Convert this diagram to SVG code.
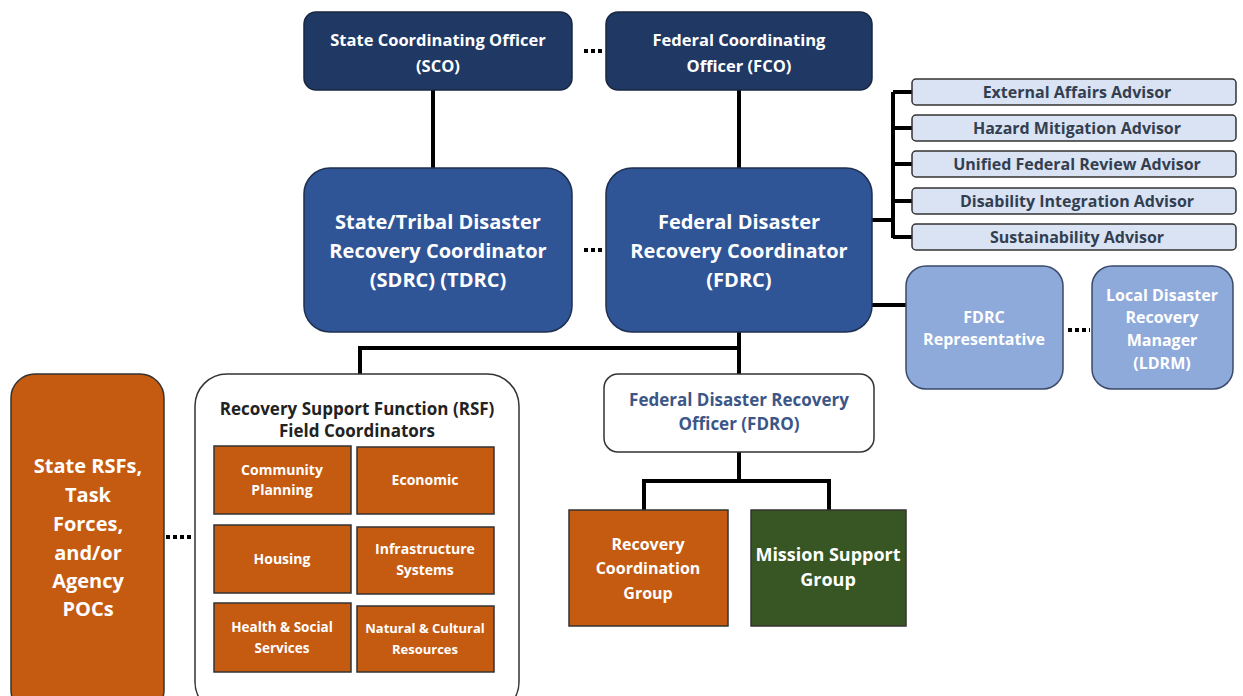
<svg xmlns="http://www.w3.org/2000/svg" width="1243" height="696" viewBox="0 0 1243 696">
<style>
text{font-family:"Open Sans","Noto Sans","Liberation Sans",sans-serif;font-weight:bold;text-anchor:middle}
.w{fill:#fff}
.navy{fill:#1f3864;stroke:#1a2640;stroke-width:1.5}
.blue{fill:#2f5597;stroke:#1f2f4f;stroke-width:1.5}
.adv{fill:#dae3f3;stroke:#333;stroke-width:1.5}
.lb{fill:#8eaadb;stroke:#3a4a6a;stroke-width:1.5}
.or{fill:#c55a11;stroke:#333;stroke-width:1.5}
.gr{fill:#375623;stroke:#333;stroke-width:1.5}
.wh{fill:#fff;stroke:#333;stroke-width:1.5}
.ln{stroke:#000;stroke-width:4;fill:none}
.dot{stroke:#000;stroke-width:4;stroke-dasharray:4 3;fill:none}
.at{fill:#333f50;font-size:16px}
</style>
<g id="connectors">
<path class="ln" d="M433 90V170M739 90V170"/>
<path class="ln" d="M872 220H893M893 92V238M893 92H912M893 128H912M893 164H912M893 201H912M893 237H912"/>
<path class="ln" d="M872 305H908"/>
<path class="ln" d="M739 332V375M360 348H741M360 346V376"/>
<path class="ln" d="M739 452V481M642 481H831M644 479V511M829 479V511"/>
<path class="dot" d="M584 51H602M584 250H602M1068 330H1090M166 537H192"/>
</g>
<g id="sco"><rect class="navy" x="304" y="12" width="268" height="78" rx="12"/><text class="w" font-size="16.5" x="438" y="46">State Coordinating Officer</text><text class="w" font-size="16.5" x="438" y="72">(SCO)</text></g>
<g id="fco"><rect class="navy" x="606" y="12" width="266" height="78" rx="12"/><text class="w" font-size="16.5" x="739" y="46">Federal Coordinating</text><text class="w" font-size="16.5" x="739" y="72">Officer (FCO)</text></g>
<g id="sdrc"><rect class="blue" x="304" y="168" width="268" height="164" rx="26"/><text class="w" font-size="20" x="438" y="229">State/Tribal Disaster</text><text class="w" font-size="20" x="438" y="258">Recovery Coordinator</text><text class="w" font-size="20" x="438" y="287">(SDRC) (TDRC)</text></g>
<g id="fdrc"><rect class="blue" x="606" y="168" width="266" height="164" rx="26"/><text class="w" font-size="20" x="739" y="229">Federal Disaster</text><text class="w" font-size="20" x="739" y="258">Recovery Coordinator</text><text class="w" font-size="20" x="739" y="287">(FDRC)</text></g>
<g id="adv1"><rect class="adv" x="912" y="79" width="324" height="26" rx="4"/><text class="at" x="1077" y="98">External Affairs Advisor</text></g>
<g id="adv2"><rect class="adv" x="912" y="115" width="324" height="26" rx="4"/><text class="at" x="1077" y="134">Hazard Mitigation Advisor</text></g>
<g id="adv3"><rect class="adv" x="912" y="151" width="324" height="26" rx="4"/><text class="at" x="1077" y="170">Unified Federal Review Advisor</text></g>
<g id="adv4"><rect class="adv" x="912" y="188" width="324" height="26" rx="4"/><text class="at" x="1077" y="207">Disability Integration Advisor</text></g>
<g id="adv5"><rect class="adv" x="912" y="224" width="324" height="26" rx="4"/><text class="at" x="1077" y="243">Sustainability Advisor</text></g>
<g id="fdrcrep"><rect class="lb" x="906" y="266" width="157" height="123" rx="20"/><text class="w" font-size="16" x="984" y="323">FDRC</text><text class="w" font-size="16" x="984" y="345">Representative</text></g>
<g id="ldrm"><rect class="lb" x="1092" y="266" width="141" height="123" rx="20"/><text class="w" font-size="16" x="1162" y="301">Local Disaster</text><text class="w" font-size="16" x="1162" y="323">Recovery</text><text class="w" font-size="16" x="1162" y="346">Manager</text><text class="w" font-size="16" x="1162" y="369">(LDRM)</text></g>
<g id="fdro"><rect class="wh" x="604" y="374" width="270" height="78" rx="14"/><text font-size="17" fill="#3b5687" x="739" y="406">Federal Disaster Recovery</text><text font-size="17" fill="#3b5687" x="739" y="430">Officer (FDRO)</text></g>
<g id="rcg"><rect class="or" x="569" y="510" width="159" height="116"/><text class="w" font-size="16" x="648" y="550">Recovery</text><text class="w" font-size="16" x="648" y="574">Coordination</text><text class="w" font-size="16" x="648" y="599">Group</text></g>
<g id="msg"><rect class="gr" x="751" y="510" width="155" height="116"/><text class="w" font-size="18" x="828" y="561">Mission Support</text><text class="w" font-size="18" x="828" y="586">Group</text></g>
<g id="staterfs"><rect class="or" x="11" y="374" width="153" height="340" rx="24"/><text class="w" font-size="20" x="88" y="473">State RSFs,</text><text class="w" font-size="20" x="88" y="502">Task</text><text class="w" font-size="20" x="88" y="531">Forces,</text><text class="w" font-size="20" x="88" y="560">and/or</text><text class="w" font-size="20" x="88" y="588">Agency</text><text class="w" font-size="20" x="88" y="616">POCs</text></g>
<g id="rsf"><rect class="wh" x="195" y="374" width="324" height="340" rx="32"/><text font-size="17" fill="#222" x="357" y="415">Recovery Support Function (RSF)</text><text font-size="17" fill="#222" x="357" y="437">Field Coordinators</text></g>
<g id="rsf-cp"><rect class="or" x="214" y="446" width="137" height="68"/><text class="w" font-size="14" x="282" y="475">Community</text><text class="w" font-size="14" x="282" y="495">Planning</text></g>
<g id="rsf-ec"><rect class="or" x="357" y="447" width="137" height="67"/><text class="w" font-size="14" x="425" y="485">Economic</text></g>
<g id="rsf-ho"><rect class="or" x="214" y="525" width="137" height="68"/><text class="w" font-size="14" x="282" y="564">Housing</text></g>
<g id="rsf-in"><rect class="or" x="357" y="527" width="137" height="67"/><text class="w" font-size="14" x="425" y="554">Infrastructure</text><text class="w" font-size="14" x="425" y="575">Systems</text></g>
<g id="rsf-hs"><rect class="or" x="214" y="603" width="137" height="69"/><text class="w" font-size="13.5" x="282" y="632">Health &amp; Social</text><text class="w" font-size="13.5" x="282" y="653">Services</text></g>
<g id="rsf-nc"><rect class="or" x="357" y="606" width="137" height="66"/><text class="w" font-size="13" x="425" y="633">Natural &amp; Cultural</text><text class="w" font-size="13" x="425" y="654">Resources</text></g>
</svg>
